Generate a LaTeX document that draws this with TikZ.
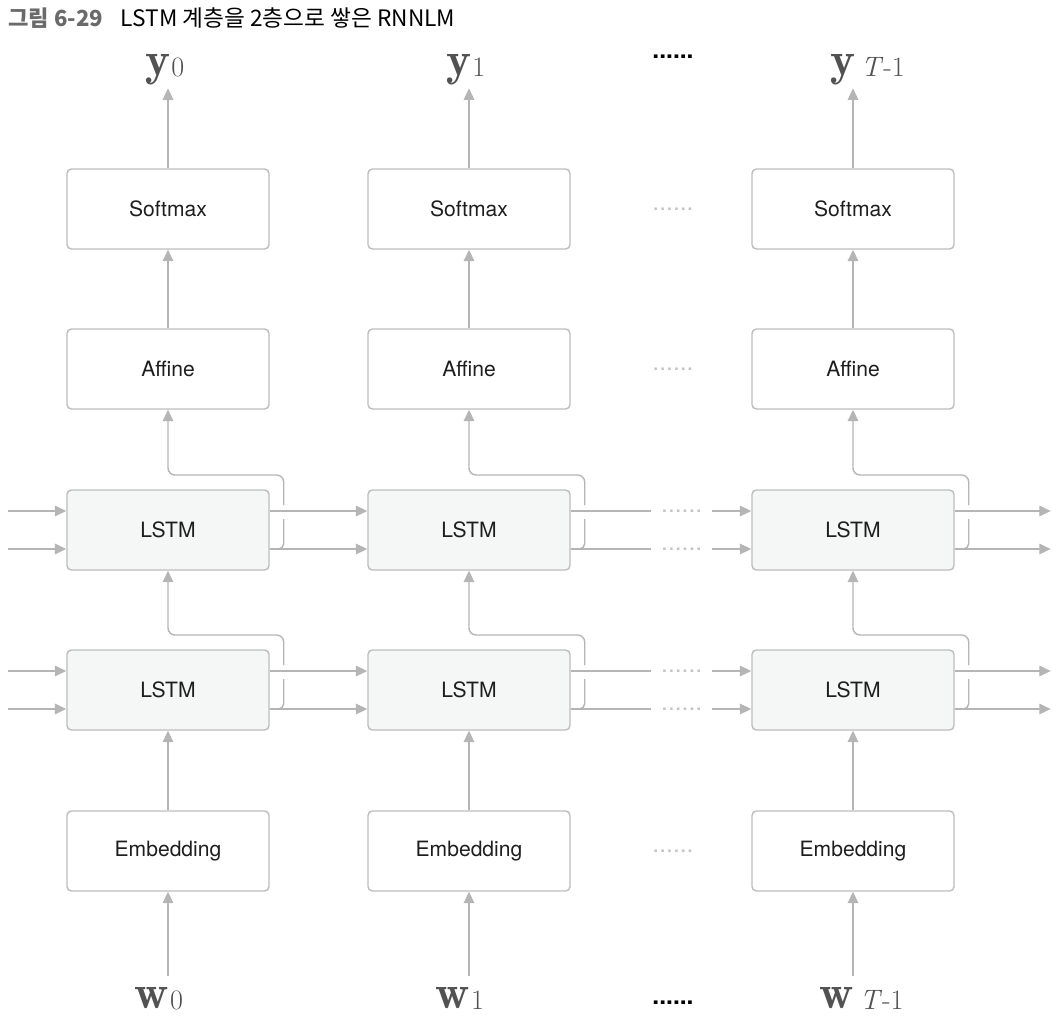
\documentclass[tikz,border=0pt]{standalone}
\usepackage{fontspec}
\usetikzlibrary{arrows.meta}
\newfontfamily\boxfont{TeX Gyre Heros}
\newfontfamily\kr{Noto Sans CJK KR}
\definecolor{linegray}{HTML}{B5B5B5}
\definecolor{boxgray}{HTML}{BDBDBD}
\definecolor{lstmfill}{HTML}{F4F7F6}
\definecolor{txtblack}{HTML}{1E1E1E}
\definecolor{labgray}{HTML}{525252}
\definecolor{dotgray}{HTML}{C4C4C4}
\definecolor{titlegray}{HTML}{6A6A6A}
\newcommand{\veclab}[2]{{\fontsize{27}{27}\selectfont$\mathbf{#1}$}\hspace{0.5pt}\raisebox{-1pt}{\fontsize{16}{16}\selectfont #2}}

\begin{document}
\begin{tikzpicture}[x=0.2mm,y=-0.2mm,
    box/.style={draw=boxgray, line width=0.8pt, rounded corners=2.5pt,
      minimum width=4.04cm, minimum height=1.6cm,
      font=\boxfont\fontsize{12}{14}\selectfont, text=txtblack},
    lstm/.style={box, fill=lstmfill},
    arr/.style={draw=linegray, line width=0.8pt, -{Triangle[length=6.5pt,width=6pt]}},
    gline/.style={draw=linegray, line width=0.8pt},
    ylab/.style={text=labgray, anchor=base west, inner xsep=0pt, inner ysep=2pt},
    wlab/.style={ylab, inner ysep=6pt},
    gdots/.style={text=dotgray, inner sep=0pt, font=\boxfont\fontsize{14}{14}\selectfont},
    bdots/.style={text=black, inner sep=0pt, font=\boxfont\bfseries\fontsize{14}{14}\selectfont}]
    \useasboundingbox (0,0) rectangle (1063,1024);

    % title
    \node[anchor=west, inner sep=0pt] (title) at (8,18)
      {\kr\fontsize{12.6}{15}\selectfont{\bfseries\color{titlegray}그림 6-29}\hspace{0.8em}\fontsize{12.9}{15}\selectfont LSTM 계층을 2층으로 쌓은 RNNLM};

    % layers
    \foreach \c/\x in {0/168,1/469,2/853}{
        \node[box] (sm\c) at (\x,209) {Softmax};
        \node[box] (af\c) at (\x,369) {Affine};
        \node[lstm] (up\c) at (\x,530) {LSTM};
        \node[lstm] (lo\c) at (\x,690) {LSTM};
        \node[box] (em\c) at (\x,851) {Embedding};
    }

    % inputs and outputs
    \foreach \c/\s in {0/0,1/1,2/{\,\textit{T}-1}}{
        \node[ylab] (y\c) at ([xshift=-13]sm\c.center |- 0,75) {\veclab{y}{\s}};
        \node[wlab] (w\c) at ([xshift=-19]em\c.center |- 0,1008) {\veclab{w}{\s}};
        \draw[arr] (sm\c.north) -- (sm\c.north |- y\c.south);
        \draw[arr] (af\c) -- (sm\c);
        \draw[arr] (em\c) -- (lo\c);
        \draw[arr] (em\c.south |- w\c.north) -- (em\c.south);
    }

    % time direction
    \foreach \r in {up,lo}{
        \foreach \d/\k in {-19/a,19/b}{
            \draw[arr] ([shift={(-58,\d)}]\r0.west) -- ([shift={(0,\d)}]\r0.west);
            \draw[arr] ([shift={(0,\d)}]\r0.east) -- ([shift={(0,\d)}]\r1.west);
            \draw[gline] ([shift={(0,\d)}]\r1.east) -- ([shift={(80,\d)}]\r1.east);
            \node[gdots] (d\r\k) at ([shift={(111,\d)}]\r1.east) {......};
            \draw[arr] ([shift={(-39,\d)}]\r2.west) -- ([shift={(0,\d)}]\r2.west);
            \draw[arr] ([shift={(0,\d)}]\r2.east) -- ([shift={(96,\d)}]\r2.east);
        }
    }

    % branch of h up to the next layer
    \foreach \c in {0,1,2}{
        \draw[gline, rounded corners=3pt] ([shift={(0,19)}]lo\c.east) -| ([shift={(14,-11)}]lo\c.east);
        \draw[arr, rounded corners=4pt] ([shift={(14,-25)}]lo\c.east) -- ([shift={(14,-55)}]lo\c.east) -| (up\c.south);
        \draw[gline, rounded corners=3pt] ([shift={(0,19)}]up\c.east) -| ([shift={(14,-11)}]up\c.east);
        \draw[arr, rounded corners=4pt] ([shift={(14,-25)}]up\c.east) -- ([shift={(14,-55)}]up\c.east) -| (af\c.south);
    }

    % skipped steps
    \node[bdots] (dtop) at (673,57) {......};
    \node[gdots] (dsm) at (673,209) {......};
    \node[gdots] (daf) at (673,369) {......};
    \node[gdots] (dem) at (673,851) {......};
    \node[bdots] (dbot) at (673,1003) {......};
\end{tikzpicture}
\end{document}
